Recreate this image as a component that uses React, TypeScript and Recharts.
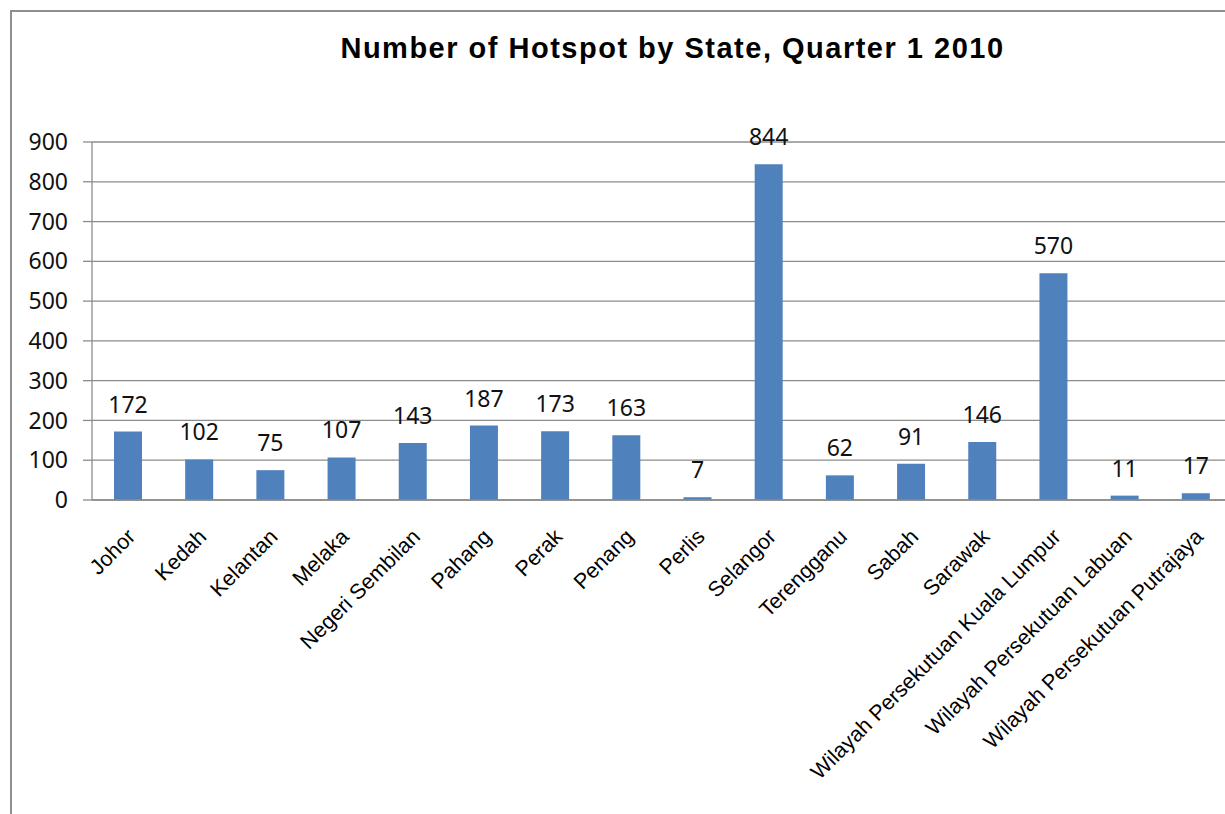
import { BarChart, Bar, XAxis, YAxis, CartesianGrid, LabelList } from 'recharts';

const states = [
  'Johor',
  'Kedah',
  'Kelantan',
  'Melaka',
  'Negeri Sembilan',
  'Pahang',
  'Perak',
  'Penang',
  'Perlis',
  'Selangor',
  'Terengganu',
  'Sabah',
  'Sarawak',
  'Wilayah Persekutuan Kuala Lumpur',
  'Wilayah Persekutuan Labuan',
  'Wilayah Persekutuan Putrajaya',
];

const hotspots = [172, 102, 75, 107, 143, 187, 173, 163, 7, 844, 62, 91, 146, 570, 11, 17];

const yTicks = [0, 100, 200, 300, 400, 500, 600, 700, 800, 900];

const data = states.map((state, i) => ({ state, count: hotspots[i] }));

const numFont = '"Noto Sans", sans-serif';
const labelFont = '"Liberation Sans", Arial, sans-serif';

function StateTick(props: any) {
  const { x, payload } = props;
  const ax = x + 9;
  const ay = 538;
  return (
    <text
      x={ax}
      y={ay}
      textAnchor="end"
      transform={`rotate(-45, ${ax}, ${ay})`}
      fontFamily={labelFont}
      fontSize={21.5}
      fill="#000"
    >
      {payload.value}
    </text>
  );
}

export default function App() {
  return (
    <div
      style={{
        position: 'fixed',
        left: 0,
        top: 0,
        width: 1225,
        height: 814,
        overflow: 'hidden',
        background: '#fff',
      }}
    >
      <div
        style={{
          position: 'absolute',
          left: 10,
          top: 10,
          width: 1400,
          height: 1000,
          borderLeft: '2px solid #8f8f8f',
          borderTop: '2px solid #8f8f8f',
        }}
      />
      <div
        style={{
          position: 'absolute',
          left: 0,
          top: 0,
          width: 1345,
          textAlign: 'center',
          fontFamily: labelFont,
          fontWeight: 'bold',
          fontSize: 29,
          letterSpacing: 1.5,
          lineHeight: '29px',
          paddingTop: 34,
          color: '#000',
        }}
      >
        Number of Hotspot by State, Quarter 1 2010
      </div>
      <div style={{ position: 'absolute', left: 0, top: 0 }}>
        <BarChart
          width={1240}
          height={814}
          data={data}
          margin={{ top: 142, right: 9, bottom: 14, left: 0 }}
          barSize={28}
        >
          <CartesianGrid vertical={false} stroke="#8c8c8c" strokeWidth={1.3} />
          <XAxis
            dataKey="state"
            interval={0}
            tickLine={false}
            axisLine={{ stroke: '#8c8c8c', strokeWidth: 1.3 }}
            height={300}
            tick={<StateTick />}
          />
          <YAxis
            width={92}
            domain={[0, 900]}
            ticks={yTicks}
            interval={0}
            tickSize={9}
            tickMargin={15}
            tickLine={{ stroke: '#8c8c8c', strokeWidth: 1.3 }}
            axisLine={{ stroke: '#8c8c8c', strokeWidth: 1.3 }}
            tick={{ fontFamily: numFont, fontSize: 23, fill: '#111' }}
          />
          <Bar dataKey="count" fill="#4F81BD" isAnimationActive={false}>
            <LabelList
              dataKey="count"
              position="top"
              offset={19}
              style={{ fontFamily: numFont, fontSize: 23, fill: '#111' }}
            />
          </Bar>
        </BarChart>
      </div>
    </div>
  );
}
